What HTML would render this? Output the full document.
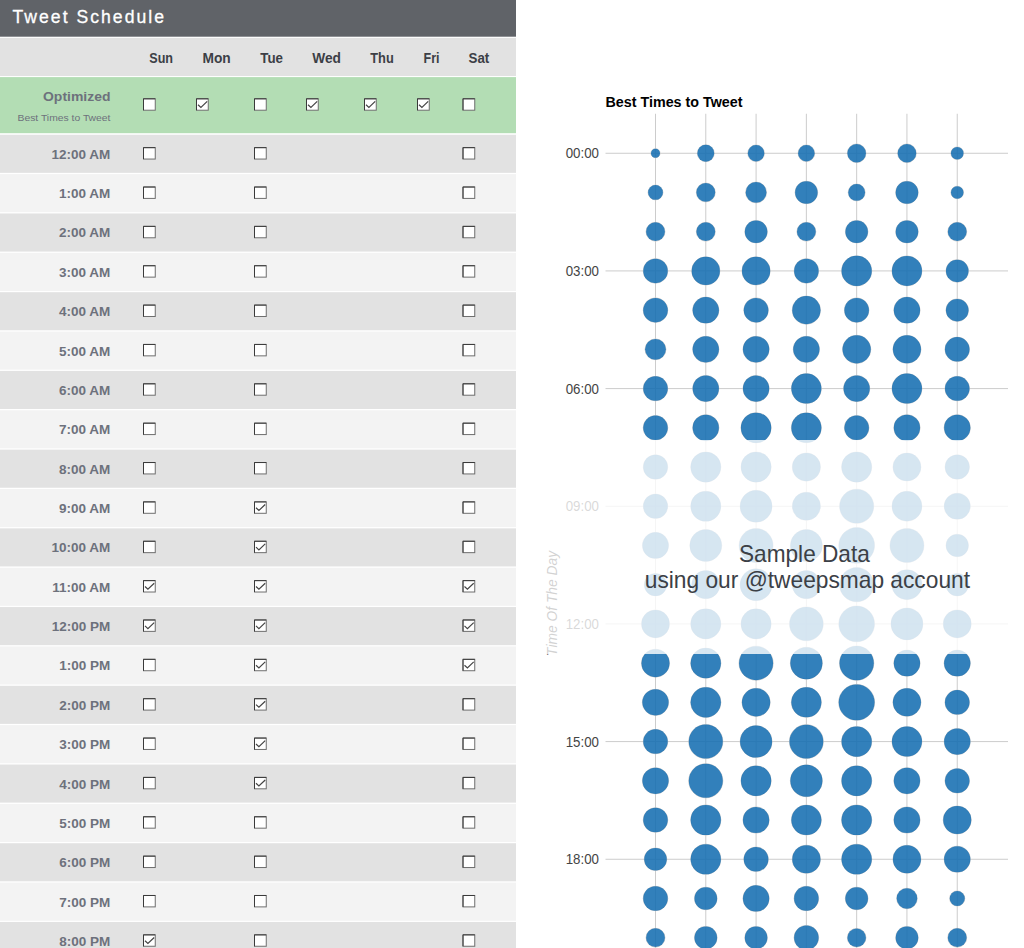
<!DOCTYPE html>
<html lang="en">
<head>
<meta charset="utf-8">
<title>Tweet Schedule</title>
<style>
html,body{margin:0;padding:0;background:#fff;}
body{width:1024px;height:948px;overflow:hidden;font-family:"Liberation Sans",sans-serif;}
svg{display:block;}
.ui{font-family:"Liberation Sans",sans-serif;}
.hd{font-size:17.6px;fill:#fff;stroke:#fff;stroke-width:0.3px;}
.day{font-weight:bold;font-size:14.2px;fill:#3c3f46;}
.tm{font-weight:bold;font-size:13.5px;fill:#6d717c;text-anchor:end;}
.sub{font-size:9.4px;fill:#6d717c;text-anchor:end;}
.ax{font-size:13.8px;fill:#444;text-anchor:end;}
.ct{font-weight:bold;font-size:14px;fill:#000;}
.ov{font-size:23.2px;fill:#3b4046;text-anchor:middle;}
.vt{font-size:13.8px;font-style:italic;fill:#222;text-anchor:middle;}
</style>
</head>
<body>
<svg width="1024" height="948" viewBox="0 0 1024 948" class="ui">
<defs>
<g id="cb"><rect x="0.5" y="0.5" width="11.75" height="11.4" fill="#fff" stroke="#6e6e6e" stroke-width="1"/><path d="M0.5 11.9V0.5H12.25" fill="none" stroke="#3a3a3a" stroke-width="1"/></g>
<g id="cc"><use href="#cb"/><path d="M2 6.4L4.9 9.1L11.2 3.1" fill="none" stroke="#444" stroke-width="1.2"/></g>
</defs>

<rect x="0" y="0" width="516" height="36.7" fill="#606368"/>
<rect x="0" y="37.9" width="516" height="38.15" fill="#e2e2e2"/>
<rect x="0" y="77.1" width="516" height="56.1" fill="#b3ddb4"/>
<rect x="0" y="134.75" width="516" height="38.1" fill="#e2e2e2"/>
<rect x="0" y="174.11" width="516" height="38.1" fill="#f3f3f3"/>
<rect x="0" y="213.47" width="516" height="38.1" fill="#e2e2e2"/>
<rect x="0" y="252.83" width="516" height="38.1" fill="#f3f3f3"/>
<rect x="0" y="292.19" width="516" height="38.1" fill="#e2e2e2"/>
<rect x="0" y="331.55" width="516" height="38.1" fill="#f3f3f3"/>
<rect x="0" y="370.91" width="516" height="38.1" fill="#e2e2e2"/>
<rect x="0" y="410.27" width="516" height="38.1" fill="#f3f3f3"/>
<rect x="0" y="449.63" width="516" height="38.1" fill="#e2e2e2"/>
<rect x="0" y="488.99" width="516" height="38.1" fill="#f3f3f3"/>
<rect x="0" y="528.35" width="516" height="38.1" fill="#e2e2e2"/>
<rect x="0" y="567.71" width="516" height="38.1" fill="#f3f3f3"/>
<rect x="0" y="607.07" width="516" height="38.1" fill="#e2e2e2"/>
<rect x="0" y="646.43" width="516" height="38.1" fill="#f3f3f3"/>
<rect x="0" y="685.79" width="516" height="38.1" fill="#e2e2e2"/>
<rect x="0" y="725.15" width="516" height="38.1" fill="#f3f3f3"/>
<rect x="0" y="764.51" width="516" height="38.1" fill="#e2e2e2"/>
<rect x="0" y="803.87" width="516" height="38.1" fill="#f3f3f3"/>
<rect x="0" y="843.23" width="516" height="38.1" fill="#e2e2e2"/>
<rect x="0" y="882.59" width="516" height="38.1" fill="#f3f3f3"/>
<rect x="0" y="921.95" width="516" height="38.1" fill="#e2e2e2"/>
<text class="hd" x="12.5" y="22.8" textLength="151.5" lengthAdjust="spacing">Tweet Schedule</text>
<text class="day" x="149.25" y="62.75" textLength="23.75" lengthAdjust="spacingAndGlyphs">Sun</text>
<text class="day" x="202.5" y="62.75" textLength="28.25" lengthAdjust="spacingAndGlyphs">Mon</text>
<text class="day" x="260.25" y="62.75" textLength="22.75" lengthAdjust="spacingAndGlyphs">Tue</text>
<text class="day" x="312.25" y="62.75" textLength="28.75" lengthAdjust="spacingAndGlyphs">Wed</text>
<text class="day" x="370.25" y="62.75" textLength="23.5" lengthAdjust="spacingAndGlyphs">Thu</text>
<text class="day" x="423.5" y="62.75" textLength="16" lengthAdjust="spacingAndGlyphs">Fri</text>
<text class="day" x="468.5" y="62.75" textLength="20.75" lengthAdjust="spacingAndGlyphs">Sat</text>
<text class="tm" x="110.5" y="101.25" textLength="67.5" lengthAdjust="spacingAndGlyphs">Optimized</text>
<text class="sub" x="110.5" y="120.5" textLength="93" lengthAdjust="spacingAndGlyphs">Best Times to Tweet</text>
<use href="#cb" x="143" y="98.3"/>
<use href="#cc" x="196" y="98.3"/>
<use href="#cb" x="254" y="98.3"/>
<use href="#cc" x="306" y="98.3"/>
<use href="#cc" x="364" y="98.3"/>
<use href="#cc" x="417" y="98.3"/>
<use href="#cb" x="462.5" y="98.3"/>
<text class="tm" x="110.3" y="158.75">12:00 AM</text>
<use href="#cb" x="143" y="147.15"/>
<use href="#cb" x="254" y="147.15"/>
<use href="#cb" x="462.5" y="147.15"/>
<text class="tm" x="110.3" y="198.11">1:00 AM</text>
<use href="#cb" x="143" y="186.51"/>
<use href="#cb" x="254" y="186.51"/>
<use href="#cb" x="462.5" y="186.51"/>
<text class="tm" x="110.3" y="237.47">2:00 AM</text>
<use href="#cb" x="143" y="225.87"/>
<use href="#cb" x="254" y="225.87"/>
<use href="#cb" x="462.5" y="225.87"/>
<text class="tm" x="110.3" y="276.83">3:00 AM</text>
<use href="#cb" x="143" y="265.23"/>
<use href="#cb" x="254" y="265.23"/>
<use href="#cb" x="462.5" y="265.23"/>
<text class="tm" x="110.3" y="316.19">4:00 AM</text>
<use href="#cb" x="143" y="304.59"/>
<use href="#cb" x="254" y="304.59"/>
<use href="#cb" x="462.5" y="304.59"/>
<text class="tm" x="110.3" y="355.55">5:00 AM</text>
<use href="#cb" x="143" y="343.95"/>
<use href="#cb" x="254" y="343.95"/>
<use href="#cb" x="462.5" y="343.95"/>
<text class="tm" x="110.3" y="394.91">6:00 AM</text>
<use href="#cb" x="143" y="383.31"/>
<use href="#cb" x="254" y="383.31"/>
<use href="#cb" x="462.5" y="383.31"/>
<text class="tm" x="110.3" y="434.27">7:00 AM</text>
<use href="#cb" x="143" y="422.67"/>
<use href="#cb" x="254" y="422.67"/>
<use href="#cb" x="462.5" y="422.67"/>
<text class="tm" x="110.3" y="473.63">8:00 AM</text>
<use href="#cb" x="143" y="462.03"/>
<use href="#cb" x="254" y="462.03"/>
<use href="#cb" x="462.5" y="462.03"/>
<text class="tm" x="110.3" y="512.99">9:00 AM</text>
<use href="#cb" x="143" y="501.39"/>
<use href="#cc" x="254" y="501.39"/>
<use href="#cb" x="462.5" y="501.39"/>
<text class="tm" x="110.3" y="552.35">10:00 AM</text>
<use href="#cb" x="143" y="540.75"/>
<use href="#cc" x="254" y="540.75"/>
<use href="#cb" x="462.5" y="540.75"/>
<text class="tm" x="110.3" y="591.71">11:00 AM</text>
<use href="#cc" x="143" y="580.11"/>
<use href="#cc" x="254" y="580.11"/>
<use href="#cc" x="462.5" y="580.11"/>
<text class="tm" x="110.3" y="631.07">12:00 PM</text>
<use href="#cc" x="143" y="619.47"/>
<use href="#cc" x="254" y="619.47"/>
<use href="#cc" x="462.5" y="619.47"/>
<text class="tm" x="110.3" y="670.43">1:00 PM</text>
<use href="#cb" x="143" y="658.83"/>
<use href="#cc" x="254" y="658.83"/>
<use href="#cc" x="462.5" y="658.83"/>
<text class="tm" x="110.3" y="709.79">2:00 PM</text>
<use href="#cb" x="143" y="698.19"/>
<use href="#cc" x="254" y="698.19"/>
<use href="#cb" x="462.5" y="698.19"/>
<text class="tm" x="110.3" y="749.15">3:00 PM</text>
<use href="#cb" x="143" y="737.55"/>
<use href="#cc" x="254" y="737.55"/>
<use href="#cb" x="462.5" y="737.55"/>
<text class="tm" x="110.3" y="788.51">4:00 PM</text>
<use href="#cb" x="143" y="776.91"/>
<use href="#cc" x="254" y="776.91"/>
<use href="#cb" x="462.5" y="776.91"/>
<text class="tm" x="110.3" y="827.87">5:00 PM</text>
<use href="#cb" x="143" y="816.27"/>
<use href="#cb" x="254" y="816.27"/>
<use href="#cb" x="462.5" y="816.27"/>
<text class="tm" x="110.3" y="867.23">6:00 PM</text>
<use href="#cb" x="143" y="855.63"/>
<use href="#cb" x="254" y="855.63"/>
<use href="#cb" x="462.5" y="855.63"/>
<text class="tm" x="110.3" y="906.59">7:00 PM</text>
<use href="#cb" x="143" y="894.99"/>
<use href="#cb" x="254" y="894.99"/>
<use href="#cb" x="462.5" y="894.99"/>
<text class="tm" x="110.3" y="945.95">8:00 PM</text>
<use href="#cc" x="143" y="934.35"/>
<use href="#cb" x="254" y="934.35"/>
<use href="#cb" x="462.5" y="934.35"/>
<text class="ct" x="605.5" y="106.75" textLength="137" lengthAdjust="spacingAndGlyphs">Best Times to Tweet</text>
<g stroke="#ccc" stroke-width="1">
<line x1="655.50" y1="113.75" x2="655.50" y2="948"/>
<line x1="705.79" y1="113.75" x2="705.79" y2="948"/>
<line x1="756.08" y1="113.75" x2="756.08" y2="948"/>
<line x1="806.37" y1="113.75" x2="806.37" y2="948"/>
<line x1="856.66" y1="113.75" x2="856.66" y2="948"/>
<line x1="906.95" y1="113.75" x2="906.95" y2="948"/>
<line x1="957.24" y1="113.75" x2="957.24" y2="948"/>
<line x1="605.5" y1="153.25" x2="1008" y2="153.25"/>
<line x1="605.5" y1="270.92" x2="1008" y2="270.92"/>
<line x1="605.5" y1="388.58" x2="1008" y2="388.58"/>
<line x1="605.5" y1="506.25" x2="1008" y2="506.25"/>
<line x1="605.5" y1="623.91" x2="1008" y2="623.91"/>
<line x1="605.5" y1="741.58" x2="1008" y2="741.58"/>
<line x1="605.5" y1="859.25" x2="1008" y2="859.25"/>
</g>
<text class="ax" x="599" y="158.35" textLength="33.3" lengthAdjust="spacingAndGlyphs">00:00</text>
<text class="ax" x="599" y="276.02" textLength="33.3" lengthAdjust="spacingAndGlyphs">03:00</text>
<text class="ax" x="599" y="393.68" textLength="33.3" lengthAdjust="spacingAndGlyphs">06:00</text>
<text class="ax" x="599" y="511.35" textLength="33.3" lengthAdjust="spacingAndGlyphs">09:00</text>
<text class="ax" x="599" y="629.01" textLength="33.3" lengthAdjust="spacingAndGlyphs">12:00</text>
<text class="ax" x="599" y="746.68" textLength="33.3" lengthAdjust="spacingAndGlyphs">15:00</text>
<text class="ax" x="599" y="864.35" textLength="33.3" lengthAdjust="spacingAndGlyphs">18:00</text>
<text class="vt" transform="translate(556.5 603.4) rotate(-90)" textLength="105" lengthAdjust="spacingAndGlyphs">Time Of The Day</text>
<g fill="#136db1" fill-opacity="0.87" stroke="#ccc" stroke-width="1" paint-order="stroke">
<circle cx="655.50" cy="153.25" r="4.5"/>
<circle cx="705.79" cy="153.25" r="8.4"/>
<circle cx="756.08" cy="153.25" r="8.25"/>
<circle cx="806.37" cy="153.25" r="8.25"/>
<circle cx="856.66" cy="153.25" r="9.25"/>
<circle cx="906.95" cy="153.25" r="9.25"/>
<circle cx="957.24" cy="153.25" r="6.25"/>
<circle cx="655.50" cy="192.47" r="7.4"/>
<circle cx="705.79" cy="192.47" r="9.4"/>
<circle cx="756.08" cy="192.47" r="10.4"/>
<circle cx="806.37" cy="192.47" r="11.25"/>
<circle cx="856.66" cy="192.47" r="8.4"/>
<circle cx="906.95" cy="192.47" r="11.25"/>
<circle cx="957.24" cy="192.47" r="6.25"/>
<circle cx="655.50" cy="231.69" r="9.4"/>
<circle cx="705.79" cy="231.69" r="9.4"/>
<circle cx="756.08" cy="231.69" r="11.25"/>
<circle cx="806.37" cy="231.69" r="9.4"/>
<circle cx="856.66" cy="231.69" r="11.25"/>
<circle cx="906.95" cy="231.69" r="11.25"/>
<circle cx="957.24" cy="231.69" r="9.4"/>
<circle cx="655.50" cy="270.92" r="12.25"/>
<circle cx="705.79" cy="270.92" r="14.1"/>
<circle cx="756.08" cy="270.92" r="14.1"/>
<circle cx="806.37" cy="270.92" r="12.25"/>
<circle cx="856.66" cy="270.92" r="15.1"/>
<circle cx="906.95" cy="270.92" r="15"/>
<circle cx="957.24" cy="270.92" r="11.25"/>
<circle cx="655.50" cy="310.14" r="12.25"/>
<circle cx="705.79" cy="310.14" r="13.1"/>
<circle cx="756.08" cy="310.14" r="12.25"/>
<circle cx="806.37" cy="310.14" r="14.1"/>
<circle cx="856.66" cy="310.14" r="12.25"/>
<circle cx="906.95" cy="310.14" r="13.1"/>
<circle cx="957.24" cy="310.14" r="11.25"/>
<circle cx="655.50" cy="349.36" r="10.4"/>
<circle cx="705.79" cy="349.36" r="13.1"/>
<circle cx="756.08" cy="349.36" r="13.1"/>
<circle cx="806.37" cy="349.36" r="13.1"/>
<circle cx="856.66" cy="349.36" r="14.1"/>
<circle cx="906.95" cy="349.36" r="14"/>
<circle cx="957.24" cy="349.36" r="12.25"/>
<circle cx="655.50" cy="388.58" r="12.25"/>
<circle cx="705.79" cy="388.58" r="13.1"/>
<circle cx="756.08" cy="388.58" r="13.1"/>
<circle cx="806.37" cy="388.58" r="15"/>
<circle cx="856.66" cy="388.58" r="13.1"/>
<circle cx="906.95" cy="388.58" r="15"/>
<circle cx="957.24" cy="388.58" r="12.25"/>
<circle cx="655.50" cy="427.80" r="12.25"/>
<circle cx="705.79" cy="427.80" r="13.1"/>
<circle cx="756.08" cy="427.80" r="15.1"/>
<circle cx="806.37" cy="427.80" r="15"/>
<circle cx="856.66" cy="427.80" r="12.25"/>
<circle cx="906.95" cy="427.80" r="13.1"/>
<circle cx="957.24" cy="427.80" r="13.1"/>
<circle cx="655.50" cy="467.03" r="12.25"/>
<circle cx="705.79" cy="467.03" r="15.1"/>
<circle cx="756.08" cy="467.03" r="15.1"/>
<circle cx="806.37" cy="467.03" r="14.1"/>
<circle cx="856.66" cy="467.03" r="15.1"/>
<circle cx="906.95" cy="467.03" r="14"/>
<circle cx="957.24" cy="467.03" r="12.25"/>
<circle cx="655.50" cy="506.25" r="12.25"/>
<circle cx="705.79" cy="506.25" r="15.1"/>
<circle cx="756.08" cy="506.25" r="16"/>
<circle cx="806.37" cy="506.25" r="14.1"/>
<circle cx="856.66" cy="506.25" r="17.1"/>
<circle cx="906.95" cy="506.25" r="15"/>
<circle cx="957.24" cy="506.25" r="13.1"/>
<circle cx="655.50" cy="545.47" r="13.1"/>
<circle cx="705.79" cy="545.47" r="16"/>
<circle cx="756.08" cy="545.47" r="17"/>
<circle cx="806.37" cy="545.47" r="16"/>
<circle cx="856.66" cy="545.47" r="17.9"/>
<circle cx="906.95" cy="545.47" r="17"/>
<circle cx="957.24" cy="545.47" r="11.25"/>
<circle cx="655.50" cy="584.69" r="11.25"/>
<circle cx="705.79" cy="584.69" r="14.1"/>
<circle cx="756.08" cy="584.69" r="16"/>
<circle cx="806.37" cy="584.69" r="14.1"/>
<circle cx="856.66" cy="584.69" r="17.1"/>
<circle cx="906.95" cy="584.69" r="15"/>
<circle cx="957.24" cy="584.69" r="11.25"/>
<circle cx="655.50" cy="623.91" r="14"/>
<circle cx="705.79" cy="623.91" r="15.1"/>
<circle cx="756.08" cy="623.91" r="15.1"/>
<circle cx="806.37" cy="623.91" r="16.9"/>
<circle cx="856.66" cy="623.91" r="17.9"/>
<circle cx="906.95" cy="623.91" r="16"/>
<circle cx="957.24" cy="623.91" r="14"/>
<circle cx="655.50" cy="663.14" r="14"/>
<circle cx="705.79" cy="663.14" r="15.1"/>
<circle cx="756.08" cy="663.14" r="17"/>
<circle cx="806.37" cy="663.14" r="16"/>
<circle cx="856.66" cy="663.14" r="17.1"/>
<circle cx="906.95" cy="663.14" r="13.1"/>
<circle cx="957.24" cy="663.14" r="13.1"/>
<circle cx="655.50" cy="702.36" r="13.1"/>
<circle cx="705.79" cy="702.36" r="15.1"/>
<circle cx="756.08" cy="702.36" r="14.1"/>
<circle cx="806.37" cy="702.36" r="15"/>
<circle cx="856.66" cy="702.36" r="17.9"/>
<circle cx="906.95" cy="702.36" r="14"/>
<circle cx="957.24" cy="702.36" r="12.25"/>
<circle cx="655.50" cy="741.58" r="12.25"/>
<circle cx="705.79" cy="741.58" r="17"/>
<circle cx="756.08" cy="741.58" r="16"/>
<circle cx="806.37" cy="741.58" r="16.9"/>
<circle cx="856.66" cy="741.58" r="15.1"/>
<circle cx="906.95" cy="741.58" r="15"/>
<circle cx="957.24" cy="741.58" r="13.1"/>
<circle cx="655.50" cy="780.80" r="13.1"/>
<circle cx="705.79" cy="780.80" r="17"/>
<circle cx="756.08" cy="780.80" r="15.1"/>
<circle cx="806.37" cy="780.80" r="16"/>
<circle cx="856.66" cy="780.80" r="15.1"/>
<circle cx="906.95" cy="780.80" r="13.1"/>
<circle cx="957.24" cy="780.80" r="12.25"/>
<circle cx="655.50" cy="820.02" r="12.25"/>
<circle cx="705.79" cy="820.02" r="15.1"/>
<circle cx="756.08" cy="820.02" r="13.1"/>
<circle cx="806.37" cy="820.02" r="15"/>
<circle cx="856.66" cy="820.02" r="15.1"/>
<circle cx="906.95" cy="820.02" r="13.1"/>
<circle cx="957.24" cy="820.02" r="14"/>
<circle cx="655.50" cy="859.25" r="11.25"/>
<circle cx="705.79" cy="859.25" r="15.1"/>
<circle cx="756.08" cy="859.25" r="12.25"/>
<circle cx="806.37" cy="859.25" r="14.1"/>
<circle cx="856.66" cy="859.25" r="15.1"/>
<circle cx="906.95" cy="859.25" r="14"/>
<circle cx="957.24" cy="859.25" r="13.1"/>
<circle cx="655.50" cy="898.47" r="12.25"/>
<circle cx="705.79" cy="898.47" r="11.3"/>
<circle cx="756.08" cy="898.47" r="13.1"/>
<circle cx="806.37" cy="898.47" r="12.25"/>
<circle cx="856.66" cy="898.47" r="11.3"/>
<circle cx="906.95" cy="898.47" r="10.25"/>
<circle cx="957.24" cy="898.47" r="7.5"/>
<circle cx="655.50" cy="937.69" r="9.4"/>
<circle cx="705.79" cy="937.69" r="11.3"/>
<circle cx="756.08" cy="937.69" r="11.25"/>
<circle cx="806.37" cy="937.69" r="12.25"/>
<circle cx="856.66" cy="937.69" r="9.25"/>
<circle cx="906.95" cy="937.69" r="11.25"/>
<circle cx="957.24" cy="937.69" r="9.4"/>
</g>
<rect x="520" y="440" width="504" height="214" fill="#fff" fill-opacity="0.8"/>
<text class="ov" x="804.4" y="562.3" textLength="130.8" lengthAdjust="spacingAndGlyphs">Sample Data</text>
<text class="ov" x="807.4" y="588.4" textLength="325.2" lengthAdjust="spacingAndGlyphs">using our @tweepsmap account</text>
</svg>
</body>
</html>
